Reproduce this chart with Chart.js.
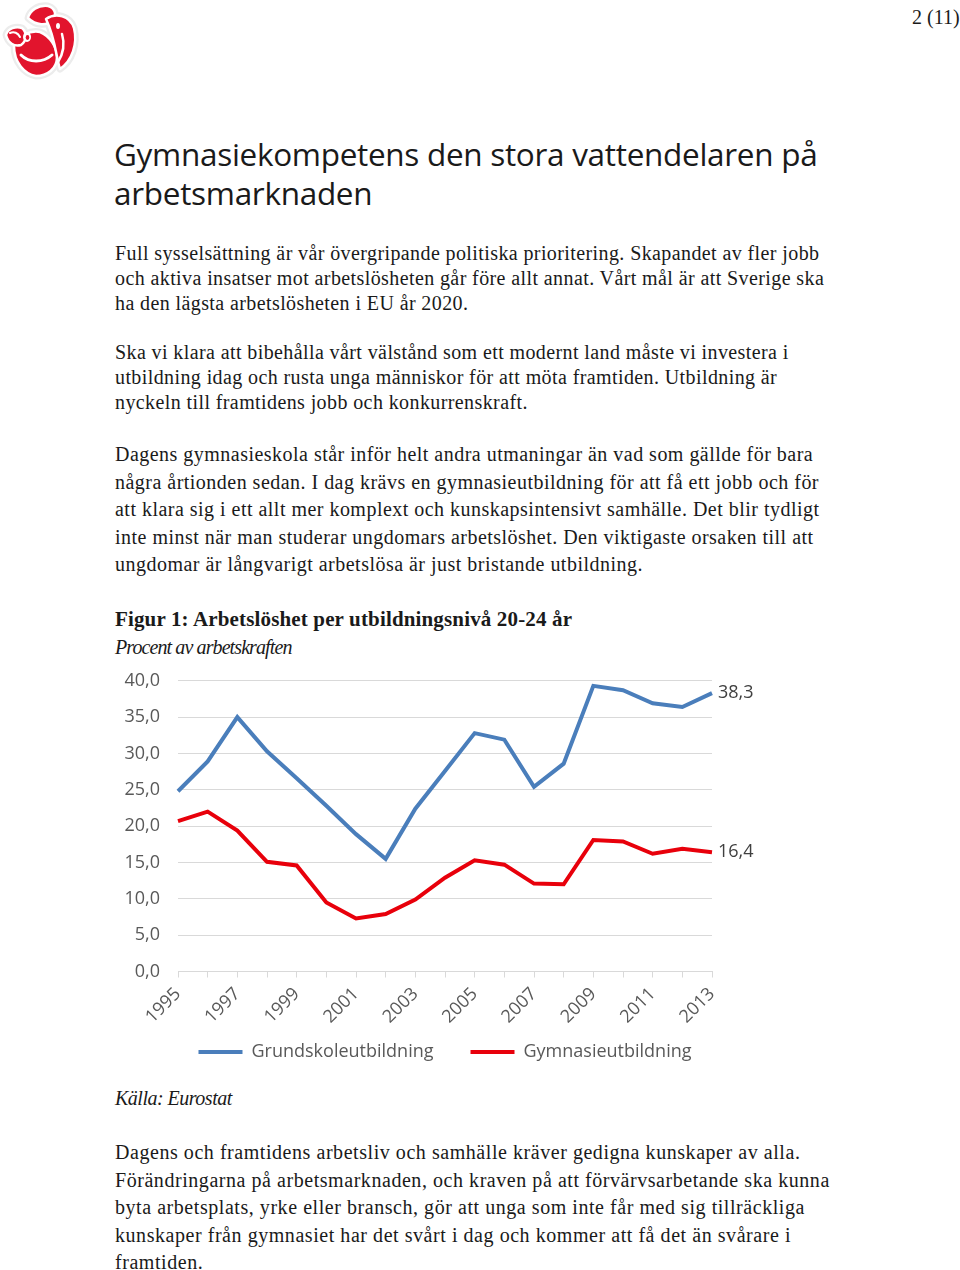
<!DOCTYPE html>
<html>
<head>
<meta charset="utf-8">
<script src="https://cdn.jsdelivr.net/npm/chart.js@4.4.0/dist/chart.umd.min.js"></script>
<style>
  html, body { margin:0; padding:0; background:#fff; }
  body { width:960px; height:1270px; position:relative; overflow:hidden; }
  .abs { position:absolute; white-space:nowrap; color:#1a1a1a; }
  .serif { font-family:"Liberation Serif","DejaVu Serif",serif; }
  .h1 { font-family:"Open Sans","Noto Sans",sans-serif; font-size:31.5px; line-height:39px; color:#1a1a1a; letter-spacing:-0.3px; }
  .p1 { font-size:20px; line-height:25px; letter-spacing:0.4px; }
  .p2 { font-size:20px; line-height:27.5px; letter-spacing:0.48px; }
  .p3 { font-size:20px; line-height:27.5px; letter-spacing:0.55px; }
</style>
</head>
<body>
<svg class="abs" style="left:0px;top:0px" width="82" height="82" viewBox="0 0 82 82">
  <g stroke="#ececec" stroke-width="7" fill="#fff" stroke-linejoin="round">
    <path d="M14 46 C18 36 30 30 40 32 C50 36 57 47 57 57 C57 69 47 76 36 76 C24 74 14 62 14 46 Z"/>
    <path d="M6 35 C8 28 16 26 22 28 C27 32 27 41 21 45 C14 47 8 43 6 35 Z"/>
    <path d="M28 18 C30 10 38 5 48 6 C55 8 57 14 53 20 C47 26 36 26 28 18 Z"/>
    <path d="M46 19 C56 12 70 16 74 28 C78 44 72 61 60 69 C56 58 56 40 46 19 Z"/>
  </g>
  <g stroke="#fff" stroke-width="2.5" fill="#e2142d" stroke-linejoin="round">
    <path d="M14 46 C18 36 30 30 40 32 C50 36 57 47 57 57 C57 69 47 76 36 76 C24 74 14 62 14 46 Z"/>
    <path d="M6 35 C8 28 16 26 22 28 C27 32 27 41 21 45 C14 47 8 43 6 35 Z"/>
    <path d="M28 18 C30 10 38 5 48 6 C55 8 57 14 53 20 C47 26 36 26 28 18 Z"/>
    <path d="M46 19 C56 12 70 16 74 28 C78 44 72 61 60 69 C56 58 56 40 46 19 Z"/>
  </g>
  <ellipse cx="27" cy="37" rx="4" ry="5" fill="#fff"/>
  <ellipse cx="27.5" cy="37.5" rx="1.8" ry="2.4" fill="#e2142d"/>
  <path d="M21 55 C29 63 43 63 52 55" fill="none" stroke="#fff" stroke-width="3" stroke-linecap="round"/>
  <path d="M10 33 C14 31 18 33 20 37" fill="none" stroke="#fff" stroke-width="2" stroke-linecap="round"/>
  <path d="M62 34 C65 44 63 54 58 62" fill="none" stroke="#fff" stroke-width="2.5" stroke-linecap="round"/>
  <ellipse cx="58" cy="26" rx="2" ry="3" fill="#fff"/>
</svg>
<div class="abs serif" style="left:912px;top:4px;font-size:20px;line-height:26px;">2 (11)</div>

<div class="abs h1" style="left:114px;top:134px;">Gymnasiekompetens den stora vattendelaren på<br>arbetsmarknaden</div>

<div class="abs serif p1" style="left:115px;top:241px;">Full sysselsättning är vår övergripande politiska prioritering. Skapandet av fler jobb<br>och aktiva insatser mot arbetslösheten går före allt annat. Vårt mål är att Sverige ska<br>ha den lägsta arbetslösheten i EU år 2020.</div>

<div class="abs serif p1" style="left:115px;top:340px;">Ska vi klara att bibehålla vårt välstånd som ett modernt land måste vi investera i<br>utbildning idag och rusta unga människor för att möta framtiden. Utbildning är<br>nyckeln till framtidens jobb och konkurrenskraft.</div>

<div class="abs serif p2" style="left:115px;top:441px;">Dagens gymnasieskola står inför helt andra utmaningar än vad som gällde för bara<br>några årtionden sedan. I dag krävs en gymnasieutbildning för att få ett jobb och för<br>att klara sig i ett allt mer komplext och kunskapsintensivt samhälle. Det blir tydligt<br>inte minst när man studerar ungdomars arbetslöshet. Den viktigaste orsaken till att<br>ungdomar är långvarigt arbetslösa är just bristande utbildning.</div>

<div class="abs serif" style="left:115px;top:606px;font-size:21px;line-height:27px;font-weight:bold;letter-spacing:0.15px;">Figur 1: Arbetslöshet per utbildningsnivå 20-24 år</div>
<div class="abs serif" style="left:115px;top:634px;font-size:20px;line-height:26px;font-style:italic;letter-spacing:-0.9px;">Procent av arbetskraften</div>

<div class="abs" style="left:110px;top:652px;width:660px;height:419px;">
  <canvas id="c" width="660" height="419"></canvas>
</div>

<div class="abs serif" style="left:115px;top:1085px;font-size:20px;line-height:26px;font-style:italic;letter-spacing:-0.5px;">Källa: Eurostat</div>

<div class="abs serif p3" style="left:115px;top:1139px;">Dagens och framtidens arbetsliv och samhälle kräver gedigna kunskaper av alla.<br>Förändringarna på arbetsmarknaden, och kraven på att förvärvsarbetande ska kunna<br>byta arbetsplats, yrke eller bransch, gör att unga som inte får med sig tillräckliga<br>kunskaper från gymnasiet har det svårt i dag och kommer att få det än svårare i<br>framtiden.</div>

<script>
const years = ['1995','1996','1997','1998','1999','2000','2001','2002','2003','2004','2005','2006','2007','2008','2009','2010','2011','2012','2013'];
const grundskola = [24.8, 28.9, 35.0, 30.3, 26.6, 22.8, 18.9, 15.5, 22.4, 27.6, 32.8, 31.9, 25.4, 28.6, 39.3, 38.7, 36.9, 36.4, 38.3];
const gymnasium = [20.7, 22.0, 19.4, 15.1, 14.6, 9.5, 7.3, 7.9, 9.9, 12.9, 15.3, 14.7, 12.1, 12.0, 18.1, 17.9, 16.2, 16.9, 16.4];
const seriesNames = ['Grundskoleutbildning', 'Gymnasieutbildning'];
const yTicks = [0, 5, 10, 15, 20, 25, 30, 35, 40];

const fmt = v => v.toFixed(1).replace('.', ',');
const axisFont = { family: '"Open Sans","Noto Sans",sans-serif', size: 18 };

const endLabels = {
  id: 'endLabels',
  afterDatasetsDraw(chart) {
    const ctx = chart.ctx;
    ctx.save();
    ctx.font = '18px "Open Sans","Noto Sans",sans-serif';
    ctx.fillStyle = '#404040';
    ctx.textAlign = 'left';
    ctx.textBaseline = 'middle';
    chart.data.datasets.forEach((ds, i) => {
      const meta = chart.getDatasetMeta(i);
      const pt = meta.data[meta.data.length - 1];
      ctx.fillText(fmt(ds.data[ds.data.length - 1]), pt.x + 6, pt.y);
    });
    ctx.restore();
  }
};

new Chart(document.getElementById('c'), {
  type: 'line',
  data: {
    labels: years,
    datasets: [
      { label: seriesNames[0], data: grundskola, borderColor: '#4a7ebb', backgroundColor: '#4a7ebb', borderWidth: 4, pointRadius: 0, tension: 0 },
      { label: seriesNames[1], data: gymnasium, borderColor: '#e8000b', backgroundColor: '#e8000b', borderWidth: 4, pointRadius: 0, tension: 0 }
    ]
  },
  options: {
    responsive: false,
    animation: false,
    devicePixelRatio: 1,
    layout: { padding: { top: 11, right: 58, left: 0, bottom: 0 } },
    plugins: {
      legend: {
        position: 'bottom',
        fullSize: false,
        labels: {
          boxWidth: 44, boxHeight: 4, font: axisFont, color: '#595959', padding: 10,
          generateLabels: chart => Chart.defaults.plugins.legend.labels.generateLabels(chart).map((l, i) => Object.assign(l, { lineWidth: 0, text: i === 0 ? l.text + '\u2003\u2002' : l.text }))
        }
      },
      tooltip: { enabled: false }
    },
    scales: {
      x: {
        offset: false,
        grid: { drawOnChartArea: false, drawTicks: true, tickLength: 6, color: '#d9d9d9' },
        border: { color: '#d9d9d9', width: 1 },
        ticks: {
          autoSkip: false, maxRotation: 45, minRotation: 45, font: axisFont, color: '#595959', padding: 6,
          callback: function(v, i) { return i % 2 === 0 ? years[i] : ''; }
        },
        afterFit: s => { s.height = 61.5; }
      },
      y: {
        min: 0, max: 40,
        afterBuildTicks: s => { s.ticks = yTicks.map(v => ({ value: v })); },
        grid: { color: '#d9d9d9', drawTicks: false },
        border: { display: false },
        ticks: { font: axisFont, color: '#595959', padding: 18, callback: v => fmt(v) },
        afterFit: s => { s.width = 68; }
      }
    }
  },
  plugins: [endLabels]
});
</script>
</body>
</html>
